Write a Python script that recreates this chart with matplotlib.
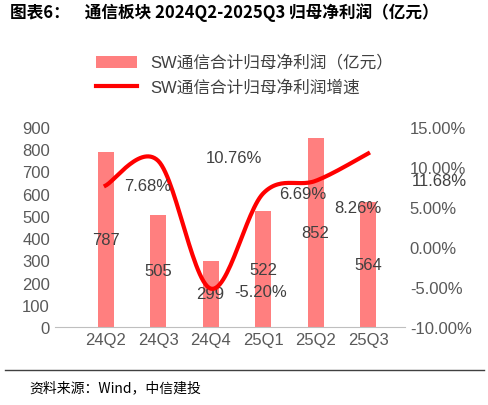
import numpy as np
import matplotlib.pyplot as plt

plt.rcParams['font.family'] = ['Liberation Sans', 'Noto Sans CJK SC', 'DejaVu Sans']

quarters = ['24Q2', '24Q3', '24Q4', '25Q1', '25Q2', '25Q3']
profit = [787, 505, 299, 522, 852, 564]
growth = [7.68, 10.76, -5.20, 6.69, 8.26, 11.68]


def smooth(x, y, n=30):
    # catmull-rom curve through the points
    x = np.asarray(x, float); y = np.asarray(y, float)
    px = np.r_[x[0], x, x[-1]]; py = np.r_[y[0], y, y[-1]]
    ox, oy = [], []
    t = np.linspace(0, 1, n)
    for i in range(1, len(px) - 2):
        for p, o in ((px, ox), (py, oy)):
            p0, p1, p2, p3 = p[i-1], p[i], p[i+1], p[i+2]
            o.extend(0.5 * (2*p1 + (-p0+p2)*t + (2*p0-5*p1+4*p2-p3)*t**2
                            + (-p0+3*p1-3*p2+p3)*t**3))
    return ox, oy


fig = plt.figure(figsize=(4.89, 4.06), dpi=100)
ax = fig.add_axes([0.112, 0.192, 0.716, 0.493])
x = np.arange(len(quarters))
ax.bar(x, profit, width=0.3, color='#FF7F7F', label='SW通信合计归母净利润（亿元）')
for xi, v in zip(x, profit):
    ax.text(xi, v / 2, str(v), ha='center', va='center', fontsize=12, color='#404040')
ax.set_ylim(0, 900)
ax.set_yticks(range(0, 901, 100))
ax.set_xlim(-0.97, 5.7)
ax.set_xticks(x, quarters)
for s in ['top', 'left', 'right']:
    ax.spines[s].set_visible(False)
ax.spines['bottom'].set_color('#BFBFBF')
ax.tick_params(length=0, labelsize=12, colors='#595959')

ax2 = ax.twinx()
sx, sy = smooth(x, growth)
ax2.plot(sx, sy, color='#FF0000', lw=3, label='SW通信合计归母净利润增速')
ax2.set_ylim(-10, 15)
ax2.set_yticks(range(-10, 16, 5))
ax2.set_yticklabels([f'{v:.2f}%' for v in range(-10, 16, 5)])
for s in ['top', 'left', 'right', 'bottom']:
    ax2.spines[s].set_visible(False)
ax2.tick_params(length=0, labelsize=12, colors='#595959')
label_pos = [(0.8, 7.7), (2.45, 11.2), (2.95, -5.5), (3.75, 6.7), (4.8, 4.9), (6.35, 8.3)]
for (lx, ly), g in zip(label_pos, growth):
    ax2.text(lx, ly, f'{g:.2f}%', ha='center', va='center',
             fontsize=12, color='#404040', clip_on=False)

h1, l1 = ax.get_legend_handles_labels()
h2, l2 = ax2.get_legend_handles_labels()
fig.legend(h1 + h2, l1 + l2, loc='upper center', bbox_to_anchor=(0.5, 0.9),
           ncol=1, frameon=False, fontsize=12, labelcolor='#404040',
           handlelength=2.5)

fig.text(0.02, 0.955, '图表6：    通信板块 2024Q2-2025Q3 归母净利润（亿元）',
         fontsize=12, fontweight='bold', family=['Noto Sans CJK SC'])
fig.add_artist(plt.Line2D([0.01, 0.99], [0.085, 0.085], color='#404040', lw=1))
fig.text(0.06, 0.035, '资料来源：Wind，中信建投', fontsize=10, style='italic',
         family=['Noto Sans CJK SC'])
fig.savefig('out.png')
